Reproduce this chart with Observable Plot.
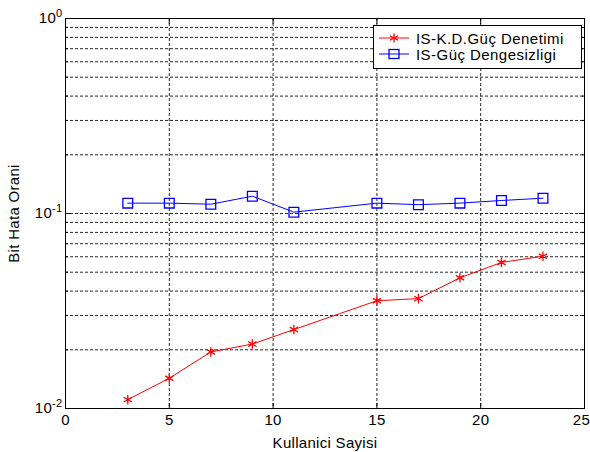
<!DOCTYPE html>
<html>
<head>
<meta charset="utf-8">
<script src="https://cdn.jsdelivr.net/npm/d3@7"></script>
<script src="https://cdn.jsdelivr.net/npm/@observablehq/plot@0.6"></script>
<style>
  html, body { margin: 0; padding: 0; background: #fff; }
  #wrap { position: relative; width: 590px; height: 452px; }
  #legend {
    position: absolute; left: 373px; top: 25px; width: 209px; height: 44px;
    border: 1px solid #000; background: #fff; box-sizing: border-box;
    font: 15px "Liberation Sans", Arial, sans-serif; letter-spacing: 0.45px; color: #000;
  }
  .row { position: absolute; left: 0; height: 16px; display: flex; align-items: center; white-space: nowrap; }
  .row svg { margin-left: 5px; margin-right: 7px; }
</style>
</head>
<body>
<div id="wrap"></div>
<script>
const users = [3, 5, 7, 9, 11, 15, 17, 19, 21, 23];
const berPowerControl = [0.0111, 0.0143, 0.0195, 0.0214, 0.0254, 0.0357, 0.0366, 0.0468, 0.0561, 0.0604];
const berPowerImbalance = [0.113, 0.113, 0.1116, 0.1227, 0.1016, 0.113, 0.111, 0.113, 0.1166, 0.1198];
const seriesNames = ["IS-K.D.Güç Denetimi", "IS-Güç Dengesizligi"];
const seriesColors = ["#ff0000", "#0000ff"];
const xTicks = [0, 5, 10, 15, 20, 25];
const xGrid = [5, 10, 15, 20];
const yMajor = [0.01, 0.1, 1];
const yGrid = [0.02, 0.03, 0.04, 0.05, 0.06, 0.07, 0.08, 0.09, 0.1, 0.2, 0.3, 0.4, 0.5, 0.6, 0.7, 0.8, 0.9];
const yMinorTicks = [0.02, 0.03, 0.04, 0.05, 0.06, 0.07, 0.08, 0.09, 0.2, 0.3, 0.4, 0.5, 0.6, 0.7, 0.8, 0.9];

const red = users.map((u, i) => ({x: u, y: berPowerControl[i]}));
const blue = users.map((u, i) => ({x: u, y: berPowerImbalance[i]}));

const dash = {stroke: "#000", strokeDasharray: "3,2", strokeWidth: 1, strokeOpacity: 0.85};

const chart = Plot.plot({
  width: 590,
  height: 452,
  marginLeft: 65,
  marginRight: 6,
  marginTop: 18,
  marginBottom: 44,
  style: {fontFamily: "'Liberation Sans', Arial, sans-serif", fontSize: "15px", letterSpacing: "0.3px", background: "#fff", color: "#000"},
  x: {domain: [0, 25]},
  y: {type: "log", domain: [0.01, 1]},
  marks: [
    Plot.ruleY(yGrid, {y: d => d, ...dash}),
    Plot.ruleX(xGrid, {x: d => d, ...dash}),
    Plot.frame({stroke: "#000", strokeWidth: 1}),
    // inward ticks on all four sides
    Plot.axisX({ticks: xTicks, anchor: "bottom", tickSize: -5, text: null, label: null}),
    Plot.axisX({ticks: xTicks, anchor: "top", tickSize: -5, text: null, label: null}),
    Plot.axisY({ticks: yMajor, anchor: "left", tickSize: -6, text: null, label: null}),
    Plot.axisY({ticks: yMajor, anchor: "right", tickSize: -6, text: null, label: null}),
    Plot.axisY({ticks: yMinorTicks, anchor: "left", tickSize: -3, text: null, label: null}),
    Plot.axisY({ticks: yMinorTicks, anchor: "right", tickSize: -3, text: null, label: null}),
    // tick labels
    Plot.axisX({ticks: xTicks, anchor: "bottom", tickSize: 0, tickPadding: 6, tickFormat: d => String(d),
      label: "Kullanici Sayisi", labelAnchor: "center", labelArrow: "none", labelOffset: 39}),
    Plot.axisY({ticks: yMajor, anchor: "left", tickSize: 0, tickPadding: 3,
      tickFormat: d => "10^" + Math.round(Math.log10(d)),
      label: "Bit Hata Orani", labelAnchor: "center", labelArrow: "none", labelOffset: 57}),
    // series
    Plot.line(red, {x: "x", y: "y", stroke: seriesColors[0], strokeWidth: 1}),
    Plot.dot(red, {x: "x", y: "y", symbol: "asterisk", r: 4.5, stroke: seriesColors[0], strokeWidth: 1.3}),
    Plot.line(blue, {x: "x", y: "y", stroke: seriesColors[1], strokeWidth: 1}),
    Plot.dot(blue, {x: "x", y: "y", symbol: "square", r: 5.5, stroke: seriesColors[1], fill: "none", strokeWidth: 1.3})
  ]
});

// render exponents as superscripts; keep the rightmost tick label inside the window
d3.select(chart).selectAll("text").each(function() {
  const t = d3.select(this);
  const s = t.text();
  const m = /^10\^(-?\d+)$/.exec(s);
  if (m) {
    t.text("");
    t.append("tspan").text("10");
    t.append("tspan").attr("dy", "-0.55em").attr("font-size", "11px").text(m[1]);
  } else if (s === "25") {
    t.attr("dx", "-3");
  }
});

const wrap = document.getElementById("wrap");
wrap.appendChild(chart);

// legend
const legend = document.createElement("div");
legend.id = "legend";
const sym = [
  '<svg width="30" height="12"><line x1="0" y1="6" x2="30" y2="6" stroke="#ff0000"/><g stroke="#ff0000" stroke-width="1.3"><line x1="15" y1="1.5" x2="15" y2="10.5"/><line x1="11" y1="3.7" x2="19" y2="8.3"/><line x1="11" y1="8.3" x2="19" y2="3.7"/></g></svg>',
  '<svg width="30" height="12"><line x1="0" y1="6" x2="30" y2="6" stroke="#0000ff"/><rect x="10" y="1.5" width="10" height="9" fill="none" stroke="#0000ff" stroke-width="1.3"/></svg>'
];
seriesNames.forEach((name, i) => {
  const row = document.createElement("div");
  row.className = "row";
  row.style.top = (4 + i * 16) + "px";
  row.innerHTML = sym[i] + "<span>" + name + "</span>";
  legend.appendChild(row);
});
wrap.appendChild(legend);
</script>
</body>
</html>
